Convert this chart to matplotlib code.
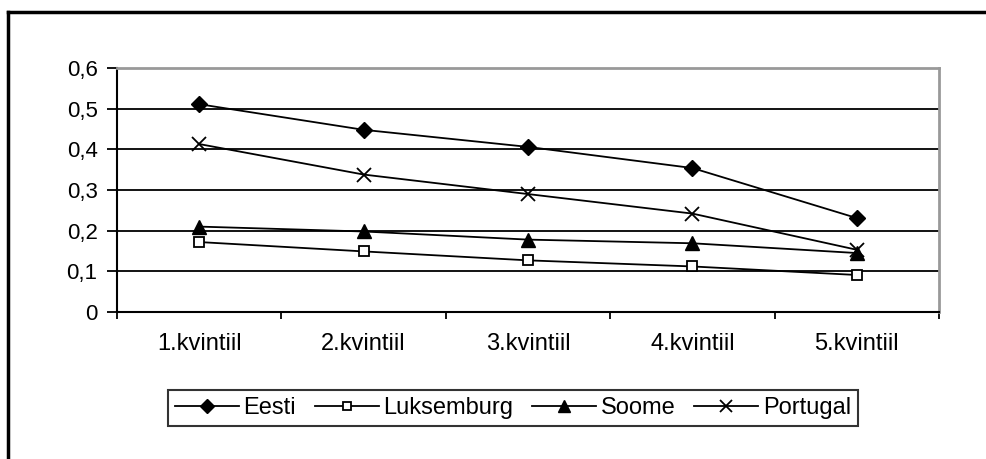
import matplotlib
matplotlib.use("Agg")
import matplotlib.pyplot as plt
from matplotlib.lines import Line2D
from matplotlib.ticker import FuncFormatter

categories = ["1.kvintiil", "2.kvintiil", "3.kvintiil", "4.kvintiil", "5.kvintiil"]
eesti = [0.511, 0.448, 0.406, 0.354, 0.231]
luksemburg = [0.172, 0.149, 0.127, 0.112, 0.091]
soome = [0.210, 0.198, 0.178, 0.169, 0.145]
portugal = [0.413, 0.338, 0.290, 0.242, 0.153]

plt.rcParams['font.family'] = ['Liberation Sans', 'DejaVu Sans']

fig = plt.figure(figsize=(9.87, 4.59), dpi=100)
W, H = 987, 459
ax = fig.add_axes([117 / W, 1 - 312 / H, (939 - 117) / W, (312 - 68) / H])

x = list(range(len(categories)))
ax.plot(x, eesti, color='black', lw=1.3, marker='D', ms=8, mfc='black', label='Eesti')
ax.plot(x, luksemburg, color='black', lw=1.3, marker='s', ms=7, mfc='white', mew=1.3, label='Luksemburg')
ax.plot(x, soome, color='black', lw=1.3, marker='^', ms=10, mfc='black', label='Soome')
ax.plot(x, portugal, color='black', lw=1.3, marker='x', ms=10, mew=1.3, label='Portugal')

ax.set_xlim(-0.5, len(categories) - 0.5)
ax.set_ylim(0, 0.6)
ax.set_yticks([0, 0.1, 0.2, 0.3, 0.4, 0.5, 0.6])
ax.yaxis.set_major_formatter(FuncFormatter(lambda v, p: "0" if v == 0 else ("%.1f" % v).replace(".", ",")))
ax.set_xticks(x)
ax.set_xticklabels(categories)
ax.set_xticks([i - 0.5 for i in range(len(categories) + 1)], minor=True)
ax.tick_params(axis='x', which='major', length=0, pad=15, labelsize=17)
ax.tick_params(axis='x', which='minor', length=5, width=1.3, direction='out', color='black')
ax.tick_params(axis='y', length=7, width=1.3, direction='out', labelsize=16, pad=7)

ax.yaxis.grid(True, color='black', lw=1.3)
ax.set_axisbelow(True)
for s in ['top', 'right']:
    ax.spines[s].set_color('#999999')
    ax.spines[s].set_linewidth(2)
ax.spines['left'].set_linewidth(1.5)
ax.spines['bottom'].set_linewidth(1.5)

leg = fig.legend(loc='center', bbox_to_anchor=(513 / W, 1 - 408 / H), ncol=4,
                 frameon=True, fancybox=False, edgecolor='black', fontsize=17,
                 handlelength=2.7, handletextpad=0.2, columnspacing=0.8,
                 borderpad=0.3, borderaxespad=0, markerscale=0.9)
leg.get_frame().set_linewidth(1.5)

# outer frame (top and left visible)
fig.add_artist(Line2D([8.5 / W, 1.0], [1 - 11.5 / H, 1 - 11.5 / H], color='black', lw=2.5, transform=fig.transFigure))
fig.add_artist(Line2D([8.5 / W, 8.5 / W], [0, 1 - 11.5 / H], color='black', lw=2.5, transform=fig.transFigure))

fig.savefig("out.png", dpi=100)
